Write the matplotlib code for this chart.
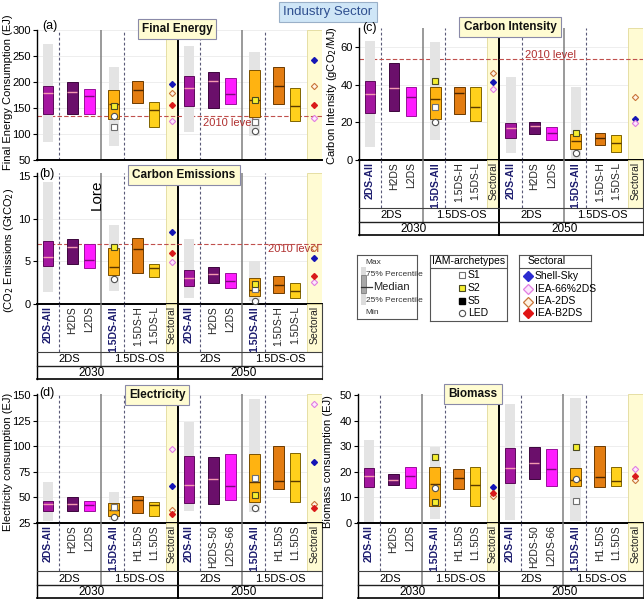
import matplotlib
matplotlib.use("Agg")
import matplotlib.pyplot as plt
from matplotlib.patches import Rectangle

plt.rcParams["font.family"] = ["Liberation Sans Narrow", "Liberation Sans", "DejaVu Sans"]
WIDE = ["Liberation Sans", "DejaVu Sans"]

# ---- data (6 boxes per year: 2DS-All, H2DS, L2DS, 1.5DS-All, 1.5DS-H, 1.5DS-L) ----
labels_abc = ["2DS-All", "H2DS", "L2DS", "1.5DS-All", "1.5DS-H", "1.5DS-L", "Sectoral"]
labels_de_2030 = ["2DS-All", "H2DS", "L2DS", "1.5DS-All", "H1.5DS", "L1.5DS", "Sectoral"]
labels_de_2050 = ["2DS-All", "H2DS-50", "L2DS-66", "1.5DS-All", "H1.5DS", "L1.5DS", "Sectoral"]
groups = ["2DS", "1.5DS-OS"]
years = ["2030", "2050"]

# (a) final energy (EJ)
fe_lo = [138, 138, 138, 128, 159, 113, 154, 149, 157, 132, 157, 125]
fe_med = [178, 180, 172, 158, 184, 146, 188, 202, 176, 165, 191, 154]
fe_hi = [191, 199, 186, 184, 202, 162, 210, 218, 207, 222, 228, 188]
fe_min = [85, 76, 104, 96]
fe_max = [273, 228, 268, 257]
fe_s1 = [(3, 113), (9, 122)]
fe_s2 = [(3, 154), (9, 165)]
fe_led = [(3, 135), (9, 106)]
fe_shell = [196, 242]
fe_iea66 = [125, 130]
fe_iea2 = [179, 191]
fe_b2 = [156, 156]
fe_2010 = 135

# (b) carbon emissions (GtCO2)
ce_lo = [4.45, 4.7, 4.2, 3.4, 3.7, 3.2, 2.1, 2.5, 1.85, 0.95, 1.35, 0.75]
ce_med = [5.55, 6.7, 5.15, 4.4, 6.5, 4.2, 3.0, 3.5, 2.75, 1.65, 2.25, 1.5]
ce_hi = [7.4, 7.65, 7.0, 6.55, 7.8, 4.7, 4.05, 4.4, 3.7, 3.1, 3.35, 2.5]
ce_min = [1.45, 1.5, 0.75, 0.3]
ce_max = [14.3, 9.3, 7.7, 5.05]
ce_s1 = [(9, 1.75)]
ce_s2 = [(3, 6.65), (9, 2.4)]
ce_led = [(3, 2.9), (9, 0.35)]
ce_shell = [8.5, 5.4]
ce_iea66 = [4.95, 2.6]
ce_iea2 = [None, 6.6]
ce_b2 = [6.05, 3.3]
ce_2010 = 7.1

# (c) carbon intensity (gCO2/MJ)
ci_lo = [24.7, 26, 23.5, 21.5, 24.2, 20.6, 11.8, 13.6, 10.6, 5.6, 7.9, 4.4]
ci_med = [34.8, 38, 33.2, 32.3, 35.6, 27.9, 16.8, 18, 14.1, 10.2, 11.5, 8.8]
ci_hi = [42, 51.5, 38.5, 38.8, 38.8, 38.8, 19.4, 20.1, 17.6, 13.6, 14.5, 13.2]
ci_min = [7.1, 10.6, 3.5, 0.4]
ci_max = [63, 62.6, 43.8, 38.8]
ci_s1 = [(3, 27.9)]
ci_s2 = [(3, 42), (9, 14.1)]
ci_led = [(3, 20.3), (9, 3.5)]
ci_shell = [41.3, 21.5]
ci_iea66 = [37.4, 19.8]
ci_iea2 = [46.2, 33.5]
ci_b2 = [None, None]
ci_2010 = 53.3

# (d) electricity (EJ)
el_lo = [36.8, 36.8, 36.5, 31.9, 34.9, 31.9, 44.9, 43.3, 47.1, 45.5, 58.1, 45.5]
el_med = [43.3, 43.7, 43.0, 37.5, 47.3, 42.4, 62.0, 67.5, 60.8, 65.1, 66.0, 66.0]
el_hi = [46.6, 50, 46.2, 45, 51.2, 45.6, 90.1, 89.8, 92.3, 92.4, 100.4, 93.8]
el_min = [27.1, 27.7, 36.5, 35.8]
el_max = [64.6, 54.8, 123.3, 146]
el_s1 = [(3, 40.7), (9, 69.4)]
el_s2 = [(9, 52.8)]
el_led = [(3, 30.9), (9, 39.4)]
el_shell = [61, 84.1]
el_iea66 = [96.9, 141.2]
el_iea2 = [37.5, 43.3]
el_b2 = [33.6, 39.4]

# (e) biomass (EJ)
bm_lo = [13.9, 14.7, 13.6, 6.5, 13.2, 6.7, 15.6, 17.3, 14.5, 14.3, 14.0, 14.6]
bm_med = [18.4, 16.9, 18.4, 15.2, 17.8, 14.9, 21.4, 23.4, 21.0, 16.9, 17.9, 16.5]
bm_hi = [21.4, 19.1, 22.0, 22.0, 21.1, 22.0, 29.5, 29.8, 28.8, 21.7, 30.1, 21.8]
bm_min = [0, 1.6, 1.0, 0.6]
bm_max = [32.4, 29.8, 46.4, 49.1]
bm_s1 = [(9, 8.7)]
bm_s2 = [(3, 25.7), (3, 8.2), (9, 29.6)]
bm_led = [(3, 13.6), (9, 17.4)]
bm_shell = [14.0, None]
bm_iea66 = [None, 21.2]
bm_iea2 = [10.6, 16.8]
bm_b2 = [11.9, 18.4]

# ---- layout ----
W, H = 644, 599
fig = plt.figure(figsize=(6.44, 5.99), dpi=100)


def rect(x0, y0, x1, y1):
    return [x0 / W, 1 - y1 / H, (x1 - x0) / W, (y1 - y0) / H]


BOX_X = [1.1, 3.5, 5.2, 7.6, 10.0, 11.6]
XMAX = 28.3
slot_x = BOX_X + [x + 14 for x in BOX_X]
sect_x = [13.4, 27.55]
bands = [(12.8, 14.0), (26.8, XMAX)]
dashed = [2.2, 8.6, 16.2, 22.6]
gray_lines = [6.4, 20.4]
ALL_SLOTS = [0, 3, 6, 9]

box_col = ["#A3169E", "#6B0F6B", "#FF1CFF", "#FFB311", "#E37D12", "#FFD11C"]
box_edge = ["#5C0A5A", "#3D063D", "#9A109A", "#7A5000", "#6B3A00", "#806400"]
med_col = ["#F49AB0", "#F49AB0", "#7A0A7A", "#5A3300", "#4A2600", "#5A3B00"]
YELLOW = "#FFFBD3"
DASH = (0, (2.5, 2))

sect_style = [
    dict(marker="D", ms=3.0, mfc="#1515B5", mec="#1515B5"),
    dict(marker="D", ms=3.2, mfc="#FDEAFD", mec="#E27DE2", mew=0.8),
    dict(marker="D", ms=3.2, mfc="#FFF4E6", mec="#C8763A", mew=0.8),
    dict(marker="D", ms=3.0, mfc="#D91A1A", mec="#D91A1A"),
]
s1_style = dict(marker="s", ms=4, mfc="white", mec="#707070", mew=0.8)
s2_style = dict(marker="s", ms=4, mfc="#F5EF30", mec="#4A4A20", mew=0.8)
led_style = dict(marker="o", ms=4.5, mfc="white", mec="#505050", mew=0.8)


def draw_panel(pos, ylim, yticks, lo, med, hi, vmin, vmax, s1, s2, led, sect, ref=None):
    ax = fig.add_axes(rect(*pos))
    ax.set_xlim(0, XMAX)
    ax.set_ylim(*ylim)
    ax.set_yticks(yticks)
    ax.set_xticks([])
    ax.tick_params(axis="y", labelsize=8, length=3, width=0.8, pad=1.5)
    for s in ["top", "right"]:
        ax.spines[s].set_visible(False)
    ax.spines["left"].set_linewidth(1.0)
    ax.spines["bottom"].set_linewidth(1.4)
    for t in yticks:
        ax.axhline(t, color="#EBEBEB", lw=0.6, zorder=0)
    for a, b in bands:
        ax.axvspan(a, b, fc=YELLOW, ec="#E2DA9A", lw=0.6, zorder=0.5)
    for x in dashed:
        ax.axvline(x, color="#5A5A78", lw=0.8, ls=DASH, zorder=0.6)
    for x in gray_lines:
        ax.axvline(x, color="#7F7F7F", lw=1.1, zorder=0.6)
    ax.axvline(14, color="black", lw=1.4, zorder=0.6)
    if ref is not None:
        ax.axhline(ref, color="#C0504D", lw=0.8, ls=(0, (4, 2)), zorder=0.7)
    for k, i in enumerate(ALL_SLOTS):
        ax.bar(slot_x[i], vmax[k] - vmin[k], bottom=vmin[k], width=1.0,
               color="#E4E4E4", zorder=1)
    for i in range(12):
        j = i % 6
        ax.bar(slot_x[i], hi[i] - lo[i], bottom=lo[i], width=1.05,
               color=box_col[j], edgecolor=box_edge[j], lw=0.7, zorder=2)
        ax.hlines(med[i], slot_x[i] - 0.5, slot_x[i] + 0.5, color=med_col[j],
                  lw=1.0, zorder=3)
    for pts, st in [(s1, s1_style), (s2, s2_style), (led, led_style)]:
        for i, v in pts:
            ax.plot(slot_x[i], v, ls="none", zorder=4, clip_on=False, **st)
    for vals, st in zip(sect, sect_style):
        for k, v in enumerate(vals):
            if v is not None:
                ax.plot(sect_x[k], v, ls="none", zorder=4, **st)
    return ax


def draw_table(pos, labels_2030, labels_2050):
    tx = fig.add_axes(rect(*pos))
    tx.set_xlim(0, XMAX)
    tx.set_ylim(75, 0)
    tx.axis("off")
    for a, b in bands:
        tx.add_patch(Rectangle((a, 0), b - a, 48, fc=YELLOW, ec="#E2DA9A", lw=0.6))
    for x in dashed:
        tx.plot([x, x], [0, 48], color="#5A5A78", lw=0.8, ls=DASH, clip_on=False)
    for x in gray_lines:
        tx.plot([x, x], [0, 62], color="#7F7F7F", lw=1.1, clip_on=False)
    tx.plot([14, 14], [0, 75], color="black", lw=1.4, clip_on=False)
    tx.plot([0, 0], [0, 75], color="black", lw=1.0, clip_on=False)
    tx.plot([XMAX, XMAX], [0, 75], color="#404040", lw=0.8, clip_on=False)
    tx.plot([0, XMAX], [48, 48], color="#404040", lw=0.8, clip_on=False)
    tx.plot([0, XMAX], [62, 62], color="#202020", lw=1.0, clip_on=False)
    tx.plot([0, XMAX], [75, 75], color="black", lw=1.2, clip_on=False)
    xs = slot_x[:6] + [sect_x[0]] + slot_x[6:] + [sect_x[1]]
    for x, lab in zip(xs, labels_2030 + labels_2050):
        bold = lab.endswith("All")
        tx.text(x, 2, lab, rotation=90, ha="center", va="top", fontsize=7.5,
                fontweight="bold" if bold else "normal",
                color="#1C1C6E" if bold else "#222222")
    for off in [0, 14]:
        tx.text(off + 3.2, 55.5, groups[0], ha="center", va="center", fontsize=8)
        tx.text(off + 10.2, 55.5, groups[1], ha="center", va="center", fontsize=8)
    tx.text(5.4, 69, years[0], ha="center", va="center", fontsize=8.5)
    tx.text(20.5, 69, years[1], ha="center", va="center", fontsize=8.5)


def fig_text(x, y, s, **kw):
    fig.text(x / W, 1 - y / H, s, **kw)


def title_box(x, y, s):
    fig_text(x, y, s, ha="center", va="center", fontsize=8.5, fontweight="bold",
             color="#111111", zorder=10, family=WIDE,
             bbox=dict(boxstyle="square,pad=0.35", fc="#FFFCD2", ec="#8A8AA8", lw=0.8))


# (a)
ax_a = draw_panel((37, 29.5, 322, 160), (50, 300), [50, 100, 150, 200, 250, 300],
                  fe_lo, fe_med, fe_hi, fe_min, fe_max, fe_s1, fe_s2, fe_led,
                  [fe_shell, fe_iea66, fe_iea2, fe_b2], ref=fe_2010)
ax_a.text(16.5, 121, "2010 level", color="#B03030", fontsize=8, va="center")

# (b)
ax_b = draw_panel((37, 173, 322, 304), (0, 15.4), [0, 5, 10, 15],
                  ce_lo, ce_med, ce_hi, ce_min, ce_max, ce_s1, ce_s2, ce_led,
                  [ce_shell, ce_iea66, ce_iea2, ce_b2], ref=ce_2010)
ax_b.text(22.9, 6.5, "2010 level", color="#B03030", fontsize=8, va="center")
ax_b.text(5.9, 12.9, "Lore", rotation=90, fontsize=11, ha="center", va="center",
          family=WIDE)
draw_table((37, 304, 322, 379), labels_abc, labels_abc)

# (c)
ax_c = draw_panel((359, 28, 643, 160), (0, 70), [0, 20, 40, 60],
                  ci_lo, ci_med, ci_hi, ci_min, ci_max, ci_s1, ci_s2, ci_led,
                  [ci_shell, ci_iea66, ci_iea2, ci_b2], ref=ci_2010)
ax_c.text(16.5, 55.8, "2010 level", color="#B03030", fontsize=8, va="center")
draw_table((359, 160, 643, 235), labels_abc, labels_abc)

# (d)
draw_panel((37, 394, 322, 523), (25, 151), [25, 50, 75, 100, 125, 150],
           el_lo, el_med, el_hi, el_min, el_max, el_s1, el_s2, el_led,
           [el_shell, el_iea66, el_iea2, el_b2])
draw_table((37, 523, 322, 598), labels_de_2030, labels_de_2050)

# biomass
draw_panel((358, 394, 643, 523), (0, 50.5), [0, 10, 20, 30, 40, 50],
           bm_lo, bm_med, bm_hi, bm_min, bm_max, bm_s1, bm_s2, bm_led,
           [bm_shell, bm_iea66, bm_iea2, bm_b2])
draw_table((358, 523, 643, 598), labels_de_2030, labels_de_2050)

# titles, panel letters, y labels
fig_text(328, 12, "Industry Sector", ha="center", va="center", fontsize=9.5,
         color="#2F4F8F", family=WIDE,
         bbox=dict(boxstyle="square,pad=0.3", fc="#CFE6F7", ec="#9AB0C8", lw=0.8))
title_box(177, 29, "Final Energy")
title_box(184, 175, "Carbon Emissions")
title_box(510, 27, "Carbon Intensity")
title_box(157, 395, "Electricity")
title_box(473, 394, "Biomass")

for x, y, s in [(50, 26, "(a)"), (47, 174, "(b)"), (369, 28, "(c)"), (47, 393, "(d)")]:
    fig_text(x, y, s, ha="center", va="center", fontsize=9, family=WIDE)

for x, y, s in [(8, 92, "Final Energy Consumption (EJ)"),
                (9, 250, "(CO$_2$ Emissions (GtCO$_2$)"),
                (332, 96, "Carbon Intensity (gCO$_2$/MJ)"),
                (8, 462, "Electricity consumption (EJ)"),
                (328, 462, "Biomass consumption (EJ)")]:
    fig_text(x, y, s, rotation=90, ha="center", va="center", fontsize=8)


# ---- legends ----
def legend_axes(x0, y0, x1, y1):
    lx = fig.add_axes(rect(x0, y0, x1, y1))
    lx.set_xlim(0, x1 - x0)
    lx.set_ylim(y1 - y0, 0)
    lx.set_xticks([])
    lx.set_yticks([])
    for s in lx.spines.values():
        s.set_color("#555555")
        s.set_linewidth(0.8)
    return lx


l1 = legend_axes(357, 255, 417, 319)
l1.add_patch(Rectangle((4, 12), 4.5, 38, fc="#DCDCDC", ec="none"))
l1.add_patch(Rectangle((4, 20), 4.5, 18, fc="#A8A8A8", ec="#707070", lw=0.5))
l1.plot([4, 15], [32, 32], color="#333333", lw=0.9)
l1.text(8, 7, "Max", fontsize=6, va="center", color="#333333")
l1.text(9, 19, "75% Percentile", fontsize=6, va="center", color="#333333")
l1.text(16, 32, "Median", fontsize=8, va="center", color="#222222", family=WIDE)
l1.text(9, 46, "25% Percentile", fontsize=6, va="center", color="#333333")
l1.text(8, 57, "Min", fontsize=6, va="center", color="#333333")

l2 = legend_axes(430, 255, 507, 321)
l2.text(38.5, 6.5, "IAM-archetypes", ha="center", va="center", fontsize=7.5,
        family=WIDE)
l2.plot([0, 77], [13, 13], color="#555555", lw=0.8)
arch = [("S1", s1_style), ("S2", s2_style),
        ("S5", dict(marker="s", ms=4, mfc="black", mec="black")), ("LED", led_style)]
for (name, st), y in zip(arch, [20, 33, 46, 58]):
    l2.plot(32, y, ls="none", **st)
    l2.text(38, y, name, va="center", fontsize=7.5, family=WIDE)

l3 = legend_axes(519, 255, 591, 321)
l3.text(9, 6.5, "Sectoral", va="center", fontsize=7.5, family=WIDE)
l3.plot([0, 72], [13, 13], color="#555555", lw=0.8)
sect_names = ["Shell-Sky", "IEA-66%2DS", "IEA-2DS", "IEA-B2DS"]
leg_sect = [
    dict(marker="D", ms=5, mfc="#2B2BD0", mec="#2B2BD0"),
    dict(marker="D", ms=5, mfc="#FCE6FC", mec="#E27DE2", mew=0.9),
    dict(marker="D", ms=5, mfc="#FFF2E2", mec="#C8763A", mew=0.9),
    dict(marker="D", ms=5, mfc="#E01515", mec="#E01515"),
]
for name, st, y in zip(sect_names, leg_sect, [21, 34, 46.5, 58]):
    l3.plot(9, y, ls="none", **st)
    l3.text(16, y, name, va="center", fontsize=7.5, family=WIDE)

fig.savefig("out.png", dpi=100)
